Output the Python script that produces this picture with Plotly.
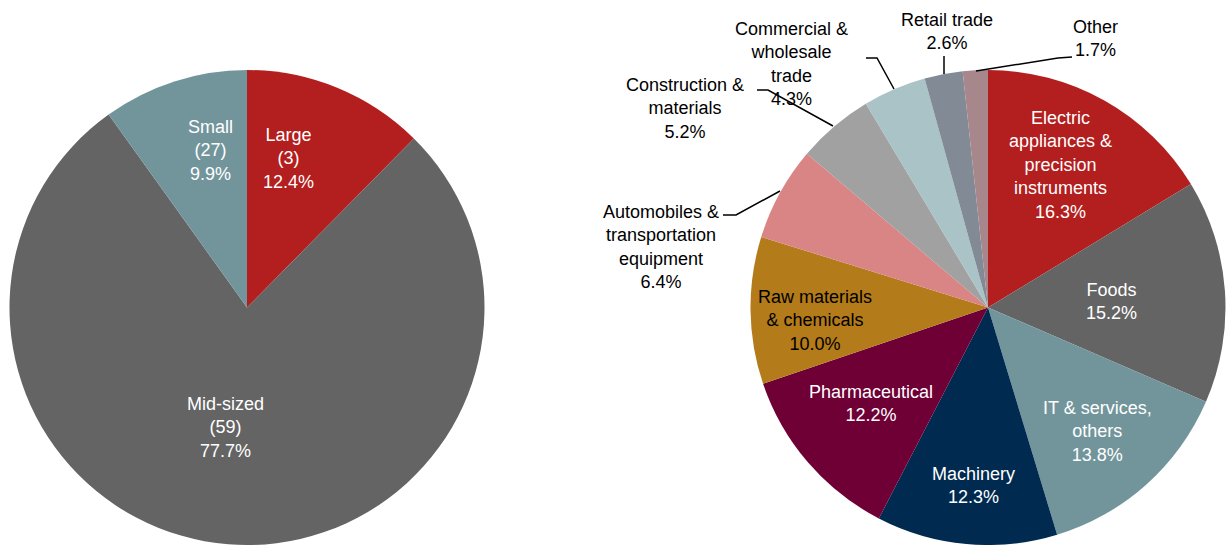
import plotly.graph_objects as go

W, H = 1228, 545

# ---- data ----
size_labels = ["Large", "Mid-sized", "Small"]
size_counts = [3, 59, 27]
size_shares = [12.4, 77.7, 9.9]
size_colors = ["#B31E1E", "#646464", "#72959C"]

sector_labels = [
    "Electric appliances & precision instruments",
    "Foods",
    "IT & services, others",
    "Machinery",
    "Pharmaceutical",
    "Raw materials & chemicals",
    "Automobiles & transportation equipment",
    "Construction & materials",
    "Commercial & wholesale trade",
    "Retail trade",
    "Other",
]
sector_shares = [16.3, 15.2, 13.8, 12.3, 12.2, 10.0, 6.4, 5.2, 4.3, 2.6, 1.7]
sector_text = [
    "Electric<br>appliances &<br>precision<br>instruments",
    "Foods",
    "IT & services,<br>others",
    "Machinery",
    "Pharmaceutical",
    "Raw materials<br>& chemicals",
    "Automobiles &<br>transportation<br>equipment",
    "Construction &<br>materials",
    "Commercial &<br>wholesale<br>trade",
    "Retail trade",
    "Other",
]
sector_colors = ["#B31E1E", "#646464", "#72959C", "#002A4F", "#6E0036", "#B37B19",
                 "#D98585", "#A1A1A1", "#A9C3C7", "#828A96", "#A7868C"]

FONT = "Liberation Sans Narrow, Arial Narrow, Liberation Sans, sans-serif"

# ---- layout helpers (label anchor positions in pixels) ----
size_label_px = [(288, 158), (225, 427), (210, 150)]
size_text_color = ["white", "white", "white"]

sector_label_px = [(1060, 165), (1111, 301), (1097, 431), (973, 485), (871, 403),
                   (815, 320), (661, 247), (685, 108), (792, 64), (947, 31), (1095, 38)]
sector_text_color = ["white", "white", "white", "white", "white", "black",
                     "black", "black", "black", "black", "black"]

leaders = [
    [(723, 215), (736, 215), (780, 191)],
    [(757, 90), (768, 90), (833, 126)],
    [(866, 58), (877, 58), (894, 89)],
    [(944, 56), (944, 74)],
    [(1072, 57), (1058, 58), (976, 71)],
]


def px(x, y):
    return x / W, 1 - y / H


fig = go.Figure()
dom_y = [0, 475 / H]
fig.add_trace(go.Pie(
    labels=size_labels, values=size_shares, sort=False, direction="clockwise",
    rotation=0, marker=dict(colors=size_colors, line=dict(width=0)),
    textinfo="none", hoverinfo="label+percent",
    domain=dict(x=[9 / W, 485 / W], y=dom_y), showlegend=False,
))
fig.add_trace(go.Pie(
    labels=sector_labels, values=sector_shares, sort=False, direction="clockwise",
    rotation=0, marker=dict(colors=sector_colors, line=dict(width=0)),
    textinfo="none", hoverinfo="label+percent",
    domain=dict(x=[750 / W, 1226 / W], y=dom_y), showlegend=False,
))

annotations = []
for lab, cnt, sh, pos, col in zip(size_labels, size_counts, size_shares, size_label_px, size_text_color):
    x, y = px(*pos)
    annotations.append(dict(
        x=x, y=y, xref="paper", yref="paper", xanchor="center", yanchor="middle",
        text=f"{lab}<br>({cnt})<br>{sh:.1f}%", showarrow=False, align="center",
        font=dict(family=FONT, size=18, color=col),
    ))
for txt, sh, pos, col in zip(sector_text, sector_shares, sector_label_px, sector_text_color):
    x, y = px(*pos)
    annotations.append(dict(
        x=x, y=y, xref="paper", yref="paper", xanchor="center", yanchor="middle",
        text=f"{txt}<br>{sh:.1f}%", showarrow=False, align="center",
        font=dict(family=FONT, size=18, color=col),
    ))

shapes = []
for pts in leaders:
    p = [px(*q) for q in pts]
    path = "M " + " L ".join(f"{a},{b}" for a, b in p)
    shapes.append(dict(type="path", path=path, xref="paper", yref="paper",
                       line=dict(color="black", width=1.5)))

fig.update_layout(
    width=W, height=H, margin=dict(l=0, r=0, t=0, b=0),
    paper_bgcolor="white", plot_bgcolor="white",
    annotations=annotations, shapes=shapes,
    font=dict(family=FONT),
)

fig.write_html("out.html")
